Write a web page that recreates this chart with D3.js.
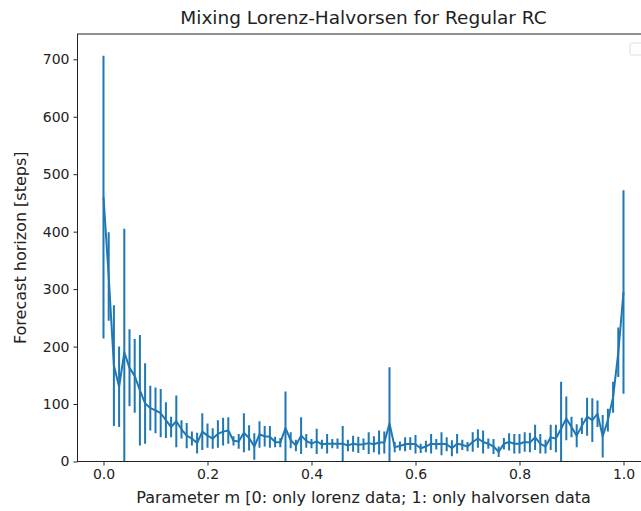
<!DOCTYPE html>
<html><head><meta charset="utf-8">
<script src="https://cdn.jsdelivr.net/npm/d3@7"></script>
<style>body{margin:0;background:#fff;overflow:hidden}text{font-family:"DejaVu Sans",sans-serif}</style>
</head><body>
<svg id="c" width="641" height="511"></svg>
<script>
// Parameter m values (0.00 .. 1.00, step 0.01)
const mValues = d3.range(101).map(i => +(i / 100).toFixed(2));
// Mean forecast horizon [steps]
const meanHorizon = [
 460,322,167,130,190,163,149,124,101,93,
 89,84,72,60,70,56,45,40,32,52,
 45,40,48,52,54,36,35,50,41,26,
 47,44,43,34,33,58,37,28,45,36,
 31,35,30,31,31,31,31,28,31,29,
 30,32,30,33,33,66,25,27,30,31,
 30,23,26,31,30,31,30,23,31,29,
 26,34,40,34,31,26,17,31,34,31,
 31,34,33,42,31,26,42,40,57,75,
 60,45,62,78,72,83,44,72,112,190,
 295];
// Error (std) of forecast horizon
const errHorizon = [
 246,77,105,70,215,67,64,96,70,39,
 40,42,31,18,45,16,22,12,18,32,
 21,18,24,24,23,8,13,34,22,23,
 23,18,19,9,8,64,14,10,32,12,
 8,22,8,17,8,9,31,10,14,14,
 10,19,14,21,19,98,9,8,12,11,
 16,8,10,17,9,20,12,14,17,9,
 8,17,16,20,9,13,9,10,15,17,
 17,17,17,22,17,12,22,24,82,38,
 18,20,14,33,38,23,37,20,27,43,
 177];
const xTicks = [0, 0.2, 0.4, 0.6, 0.8, 1.0];
const yTicks = [0, 100, 200, 300, 400, 500, 600, 700];

const title = "Mixing Lorenz-Halvorsen for Regular RC";
const xLabel = "Parameter m [0: only lorenz data; 1: only halvorsen data";
const yLabel = "Forecast horizon [steps]";

const L = 77.5, R = 649.5, T = 34, B = 461.5;
const x = d3.scaleLinear().domain([-0.05, 1.05]).range([L, R]);
const y = d3.scaleLinear().domain([0, 744]).range([B, T]);
const color = "#1f77b4";

const svg = d3.select("#c");
svg.append("defs").append("clipPath").attr("id", "clip")
  .append("rect").attr("x", L).attr("y", T).attr("width", R - L).attr("height", B - T);

const data = mValues.map((m, i) => ({m, v: meanHorizon[i], e: errHorizon[i]}));

const g = svg.append("g").attr("clip-path", "url(#clip)");
g.selectAll("line.err").data(data).join("line").attr("class", "err")
  .attr("x1", d => x(d.m)).attr("x2", d => x(d.m))
  .attr("y1", d => y(d.v - d.e)).attr("y2", d => y(d.v + d.e))
  .attr("stroke", color).attr("stroke-width", 2);
g.append("path").datum(data)
  .attr("d", d3.line().x(d => x(d.m)).y(d => y(d.v)))
  .attr("fill", "none").attr("stroke", color).attr("stroke-width", 2)
  .attr("stroke-linejoin", "round");

// axes
const xa = svg.append("g").attr("transform", `translate(0,${B})`)
  .call(d3.axisBottom(x).tickValues(xTicks).tickFormat(d3.format(".1f")).tickSize(4).tickPadding(4));
const ya = svg.append("g").attr("transform", `translate(${L},0)`)
  .call(d3.axisLeft(y).tickValues(yTicks).tickFormat(d3.format("d")).tickSize(4).tickPadding(4));
[xa, ya].forEach(a => {
  a.select(".domain").remove();
  a.selectAll("text").attr("font-size", 14).attr("fill", "#222").attr("font-family", "DejaVu Sans");
  a.selectAll("line").attr("stroke", "#222");
});
svg.append("rect").attr("x", L).attr("y", T).attr("width", R - L).attr("height", B - T)
  .attr("fill", "none").attr("stroke", "#222").attr("stroke-width", 1);

// empty legend box
svg.append("rect").attr("x", 630).attr("y", 43).attr("width", 24).attr("height", 12)
  .attr("rx", 2).attr("fill", "#fff").attr("stroke", "#ddd");

svg.append("text").attr("x", (L + R) / 2).attr("y", 24).attr("text-anchor", "middle")
  .attr("font-size", 18.5).attr("fill", "#222").text(title);
svg.append("text").attr("x", (L + R) / 2).attr("y", 503).attr("text-anchor", "middle")
  .attr("font-size", 16).attr("fill", "#222").text(xLabel);
svg.append("text").attr("transform", `translate(26,${(T + B) / 2}) rotate(-90)`)
  .attr("text-anchor", "middle").attr("font-size", 16).attr("fill", "#222").text(yLabel);
</script>
</body></html>
